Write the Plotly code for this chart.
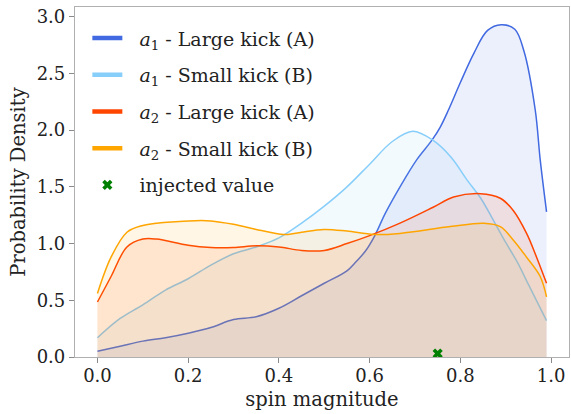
import plotly.graph_objects as go

# spin magnitude grid points and density estimates for each population
a1_large_x = [0.0, 0.05, 0.1, 0.15, 0.2, 0.25, 0.3, 0.35, 0.4, 0.45, 0.5, 0.55, 0.57, 0.59, 0.61,
              0.635, 0.667, 0.704, 0.737, 0.756, 0.774, 0.8, 0.83, 0.86, 0.89, 0.92, 0.94, 0.965, 0.976, 0.99]
a1_large_y = [0.05, 0.095, 0.14, 0.17, 0.21, 0.26, 0.33, 0.355, 0.43, 0.54, 0.65, 0.76, 0.84, 0.93, 1.06,
              1.27, 1.5, 1.74, 1.91, 2.03, 2.18, 2.42, 2.68, 2.88, 2.93, 2.89, 2.7, 2.18, 1.74, 1.28]

a1_small_x = [0.0, 0.05, 0.1, 0.15, 0.2, 0.25, 0.3, 0.35, 0.4, 0.45, 0.5, 0.55, 0.6, 0.65, 0.695,
              0.74, 0.78, 0.815, 0.845, 0.875, 0.9, 0.925, 0.95, 0.99]
a1_small_y = [0.17, 0.34, 0.46, 0.59, 0.69, 0.81, 0.91, 0.97, 1.05, 1.18, 1.33, 1.5, 1.7, 1.9, 1.99,
              1.91, 1.76, 1.56, 1.40, 1.19, 1.01, 0.84, 0.64, 0.32]

a2_large_x = [0.0, 0.03, 0.065, 0.1, 0.13, 0.2, 0.25, 0.3, 0.35, 0.4, 0.45, 0.5, 0.55, 0.6, 0.667,
              0.74, 0.785, 0.844, 0.888, 0.917, 0.946, 0.968, 0.99]
a2_large_y = [0.485, 0.71, 0.97, 1.04, 1.04, 0.985, 0.965, 0.965, 0.98, 0.97, 0.94, 0.94, 1.0, 1.07, 1.18,
              1.32, 1.41, 1.44, 1.40, 1.29, 1.09, 0.88, 0.65]

a2_small_x = [0.0, 0.03, 0.065, 0.1, 0.13, 0.2, 0.25, 0.3, 0.35, 0.4, 0.42, 0.45, 0.5, 0.55, 0.61,
              0.667, 0.778, 0.851, 0.888, 0.917, 0.946, 0.976, 0.99]
a2_small_y = [0.56, 0.88, 1.10, 1.16, 1.18, 1.2, 1.2, 1.17, 1.125, 1.085, 1.08, 1.10, 1.125, 1.11, 1.08,
              1.09, 1.15, 1.18, 1.15, 1.03, 0.88, 0.71, 0.53]

injected_x = [0.75]
injected_y = [0.03]

series = [
    ("<i>a</i><sub>1</sub> - Large kick (A)", a1_large_x, a1_large_y, (65, 105, 225)),
    ("<i>a</i><sub>1</sub> - Small kick (B)", a1_small_x, a1_small_y, (135, 206, 250)),
    ("<i>a</i><sub>2</sub> - Large kick (A)", a2_large_x, a2_large_y, (255, 69, 0)),
    ("<i>a</i><sub>2</sub> - Small kick (B)", a2_small_x, a2_small_y, (255, 165, 0)),
]

FONT = "DejaVu Serif"
PAD = "&#160;&#160;"
fig = go.Figure()

# shaded density curves
for name, xs, ys, (r, g, b) in series:
    fig.add_trace(go.Scatter(
        x=xs, y=ys, mode="lines", fill="tozeroy",
        fillcolor=f"rgba({r},{g},{b},0.1)",
        line=dict(color=f"rgb({r},{g},{b})", width=1.5, shape="spline", smoothing=1.0),
        showlegend=False, hoverinfo="skip",
    ))

# legend entries with thick line handles
for i, (name, xs, ys, (r, g, b)) in enumerate(series):
    fig.add_trace(go.Scatter(
        x=[None], y=[None], mode="lines", name=PAD + name, legendgroup=f"g{i}",
        line=dict(color=f"rgb({r},{g},{b})", width=4.5),
    ))

fig.add_trace(go.Scatter(
    x=injected_x, y=injected_y, mode="markers", name=PAD + "injected value", legendgroup="g4",
    marker=dict(symbol="x", size=9, color="green", line=dict(width=0)),
))

axis_common = dict(
    showgrid=False, zeroline=False, showline=True, mirror=True,
    linecolor="#b0b0b0", linewidth=1.2,
    ticks="outside", ticklen=5, tickwidth=1.2, tickcolor="#8a8a8a",
    tickfont=dict(family=FONT, size=18, color="#222222"),
    title_font=dict(family=FONT, size=19.5, color="#222222"),
)

fig.update_xaxes(range=[-0.0495, 1.0395], tickvals=[0, 0.2, 0.4, 0.6, 0.8, 1.0],
                 ticktext=["0.0", "0.2", "0.4", "0.6", "0.8", "1.0"], ticklabelstandoff=-3,
                 title_text="spin magnitude", title_standoff=7, **axis_common)
fig.update_yaxes(range=[0, 3.086], tickvals=[0, 0.5, 1.0, 1.5, 2.0, 2.5, 3.0],
                 ticktext=["0.0", "0.5", "1.0", "1.5", "2.0", "2.5", "3.0"],
                 title_text="Probability Density", title_standoff=5, **axis_common)

fig.update_layout(
    width=571, height=414,
    margin=dict(l=75, r=2, t=7, b=57),
    plot_bgcolor="white", paper_bgcolor="white",
    font=dict(family=FONT),
    legend=dict(x=0.025, y=0.965, xanchor="left", yanchor="top",
                bgcolor="rgba(0,0,0,0)", tracegroupgap=9,
                font=dict(family=FONT, size=19, color="#222222")),
)

fig.write_html("out.html")
